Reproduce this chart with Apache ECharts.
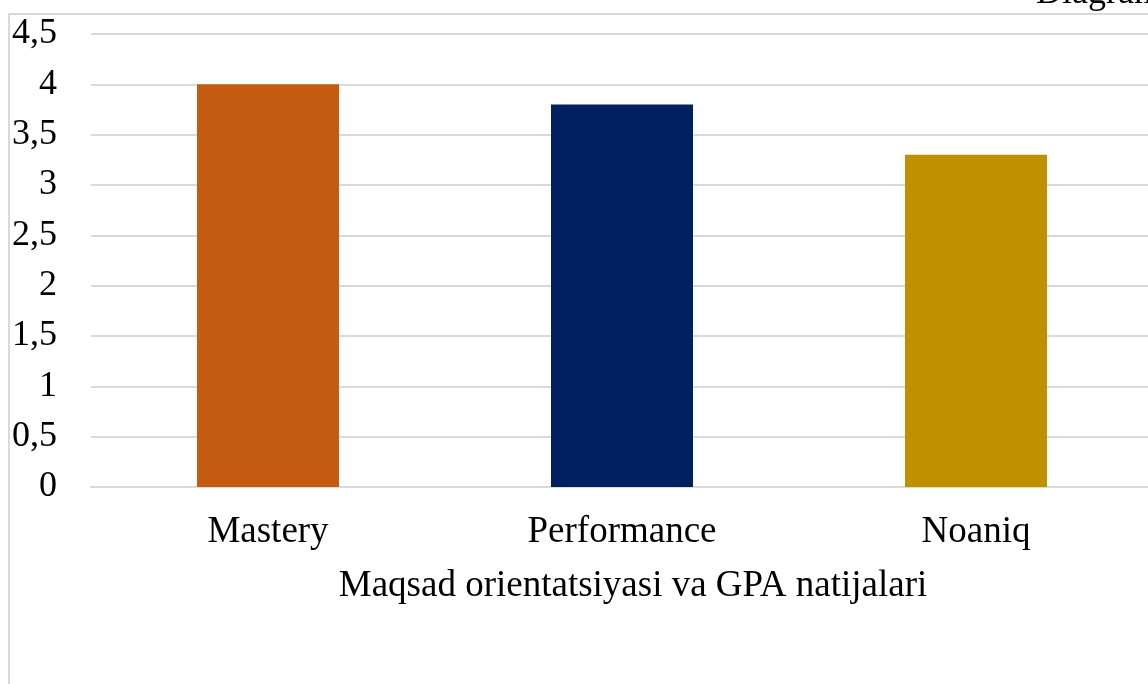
<!DOCTYPE html>
<html>
<head>
<meta charset="utf-8">
<script src="https://cdn.jsdelivr.net/npm/echarts@6/dist/echarts.min.js"></script>
<style>
  html, body { margin: 0; padding: 0; background: #fff; overflow: hidden; }
  #chart { width: 1153px; height: 684px; }
</style>
</head>
<body>
<div id="chart"></div>
<script>
const categories = ["Mastery", "Performance", "Noaniq"];
const gpaValues = [4.0, 3.8, 3.3];
const barColors = ["#C55A11", "#002060", "#BF9000"];
const axisTitle = "Maqsad orientatsiyasi va GPA natijalari";
const cornerText = "Diagram";

const font = "'Liberation Serif', 'Times New Roman', serif";

const chart = echarts.init(document.getElementById("chart"));

chart.setOption({
  backgroundColor: "#fff",
  animation: false,
  grid: {
    left: 91,
    right: 0,
    top: 34,
    bottom: 197,
  },
  xAxis: {
    type: "category",
    data: categories,
    axisLine: { lineStyle: { color: "#d9d9d9", width: 2 } },
    axisTick: { show: false },
    axisLabel: {
      color: "#000",
      fontFamily: font,
      fontSize: 37,
      margin: 27,
    },
  },
  yAxis: {
    type: "value",
    min: 0,
    max: 4.5,
    interval: 0.5,
    axisLine: { show: false },
    axisTick: { show: false },
    splitLine: { lineStyle: { color: "#d9d9d9", width: 2 } },
    axisLabel: {
      color: "#000",
      fontFamily: font,
      fontSize: 36,
      margin: 34,
      padding: [4, 0, 0, 0],
      formatter: (v) => String(v).replace(".", ","),
    },
  },
  series: [
    {
      type: "bar",
      data: gpaValues.map((v, i) => ({ value: v, itemStyle: { color: barColors[i] } })),
      barWidth: 142,
    },
  ],
  graphic: [
    {
      type: "rect",
      silent: true,
      shape: { x: 9, y: 14, width: 1200, height: 800 },
      style: { fill: "none", stroke: "#d9d9d9", lineWidth: 2 },
      z: -1,
    },
    {
      type: "text",
      silent: true,
      style: {
        text: axisTitle,
        x: 633,
        y: 586,
        align: "center",
        verticalAlign: "middle",
        fill: "#000",
        font: "37px " + font,
      },
    },
    {
      type: "text",
      silent: true,
      style: {
        text: cornerText,
        x: 1036,
        y: 12,
        align: "left",
        verticalAlign: "bottom",
        fill: "#000",
        font: "36px " + font,
      },
    },
  ],
});
</script>
</body>
</html>
